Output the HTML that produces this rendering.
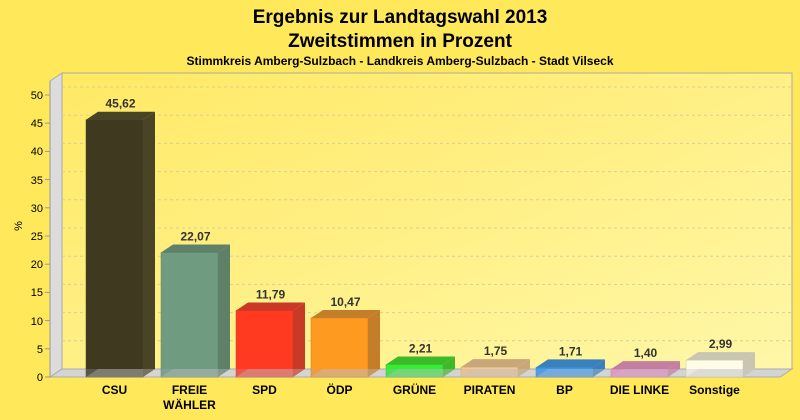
<!DOCTYPE html><html><head><meta charset="utf-8"><style>body{margin:0;background:#ffe95a}svg{display:block}text{font-family:"Liberation Sans",sans-serif}</style></head><body>
<svg width="800" height="420" xmlns="http://www.w3.org/2000/svg">
<defs><linearGradient id="w" x1="0" y1="0" x2="1" y2="1"><stop offset="0" stop-color="#ffe964"/><stop offset="1" stop-color="#fff7a8"/></linearGradient></defs>
<rect width="800" height="420" fill="#ffe95a"/>
<text x="400" y="23" text-anchor="middle" font-size="19" font-weight="bold">Ergebnis zur Landtagswahl 2013</text>
<text x="400" y="47" text-anchor="middle" font-size="19" font-weight="bold">Zweitstimmen in Prozent</text>
<text x="400" y="65" text-anchor="middle" font-size="12" font-weight="bold">Stimmkreis Amberg-Sulzbach - Landkreis Amberg-Sulzbach - Stadt Vilseck</text>
<rect x="62" y="73" width="730" height="296" fill="url(#w)" stroke="#aaa"/>
<polygon points="50,81 62,73 62,369 50,377" fill="#dcdcdc" stroke="#aaa"/>
<g stroke="#d8cf9a" stroke-dasharray="3,3">
<line x1="62" x2="792" y1="87" y2="87"/><line x1="62" x2="792" y1="115.2" y2="115.2"/><line x1="62" x2="792" y1="143.4" y2="143.4"/><line x1="62" x2="792" y1="171.6" y2="171.6"/><line x1="62" x2="792" y1="199.8" y2="199.8"/><line x1="62" x2="792" y1="228" y2="228"/><line x1="62" x2="792" y1="256.2" y2="256.2"/><line x1="62" x2="792" y1="284.4" y2="284.4"/><line x1="62" x2="792" y1="312.6" y2="312.6"/><line x1="62" x2="792" y1="340.8" y2="340.8"/></g>
<polygon points="50,377 62,369 792,369 780,377" fill="#d4d4d4" stroke="#aaa"/>
<line x1="50" y1="81" x2="50" y2="377" stroke="#999"/>
<g font-size="11" text-anchor="end">
<text x="43" y="99">50</text><text x="43" y="127">45</text><text x="43" y="155">40</text><text x="43" y="184">35</text><text x="43" y="212">30</text><text x="43" y="240">25</text><text x="43" y="268">20</text><text x="43" y="296">15</text><text x="43" y="325">10</text><text x="43" y="353">5</text><text x="43" y="381">0</text></g>
<g stroke="#999"><line x1="45" x2="50" y1="95" y2="95"/><line x1="45" x2="50" y1="123.2" y2="123.2"/><line x1="45" x2="50" y1="151.4" y2="151.4"/><line x1="45" x2="50" y1="179.6" y2="179.6"/><line x1="45" x2="50" y1="207.8" y2="207.8"/><line x1="45" x2="50" y1="236" y2="236"/><line x1="45" x2="50" y1="264.2" y2="264.2"/><line x1="45" x2="50" y1="292.4" y2="292.4"/><line x1="45" x2="50" y1="320.6" y2="320.6"/><line x1="45" x2="50" y1="348.8" y2="348.8"/><line x1="45" x2="50" y1="377" y2="377"/></g>
<text x="22" y="226" font-size="11" transform="rotate(-90 22 226)" text-anchor="middle">%</text>
<g id="bars"></g>
<g id="lab" font-size="12" font-weight="bold" text-anchor="middle"></g>
</svg>
<script>
var d=[["CSU",45.62,"#3f3a1f","#4a4426"],["FREIE|WÄHLER",22.07,"#6f9c80","#5e8068"],["SPD",11.79,"#ff3a20","#c83a26"],["ÖDP",10.47,"#ff9a20","#c47e2a"],["GRÜNE",2.21,"#33ee33","#3cba2a"],["PIRATEN",1.75,"#f5c890","#c8a87a"],["BP",1.71,"#3399ee","#3a80bc"],["DIE LINKE",1.40,"#f590c8","#c47ea0"],["Sonstige",2.99,"#fffde8","#c8c6b0"]];
var s="",l="",dy=8;
d.forEach(function(r,i){var x=86+75*i,w=57,y=377-r[1]*5.64;
s+='<polygon points="'+x+','+y+' '+(x+12)+','+(y-dy)+' '+(x+w+12)+','+(y-dy)+' '+(x+w)+','+y+'" fill="'+r[3]+'"/>';
s+='<polygon points="'+(x+w)+','+y+' '+(x+w+12)+','+(y-dy)+' '+(x+w+12)+',369 '+(x+w)+',377" fill="'+r[3]+'"/>';
s+='<rect x="'+x+'" y="'+y+'" width="'+w+'" height="'+(377-y)+'" fill="'+r[2]+'" stroke="'+r[3]+'" stroke-width="0.5"/>';
s+='<polygon points="'+x+',377 '+(x+12)+',369 '+(x+w+12)+',369 '+(x+w)+',377" fill="rgba(200,200,200,0.35)"/>';
s+='<rect x="'+x+'" y="369" width="'+w+'" height="8" fill="rgba(170,170,190,0.25)"/>';
var cx=x+w/2+6;l+='<text x="'+cx+'" y="'+(y-12)+'" fill="#333">'+r[1].toFixed(2).replace(".",",")+'</text>';
var p=r[0].split("|");l+='<text x="'+(x+w/2)+'" y="394">'+p[0]+'</text>';if(p[1])l+='<text x="'+(x+w/2)+'" y="409">'+p[1]+'</text>';});
document.getElementById("bars").innerHTML=s;document.getElementById("lab").innerHTML=l;
</script>
</body></html>
